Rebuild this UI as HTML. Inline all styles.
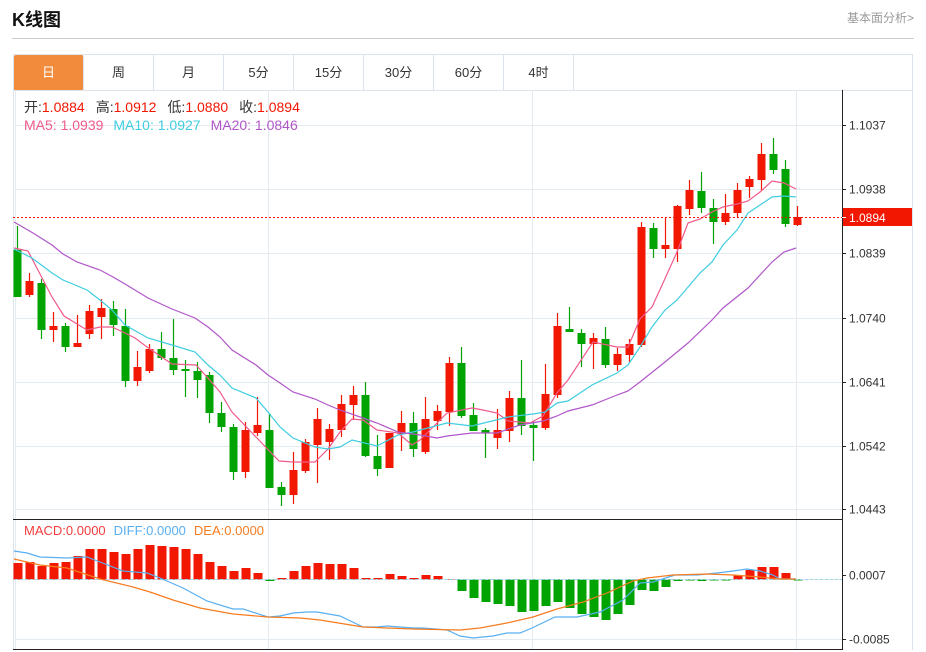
<!DOCTYPE html>
<html><head><meta charset="utf-8"><style>
body{margin:0;width:926px;height:652px;background:#fff;font-family:"Liberation Sans","Noto Sans CJK SC",sans-serif;overflow:hidden;position:relative}
.t{position:absolute;left:12px;top:6px;font-size:18px;font-weight:bold;color:#111}
.r{position:absolute;right:12px;top:9px;font-size:12px;color:#999}
.hl{position:absolute;left:12px;top:38px;width:902px;height:1px;background:#ccc}
.tabs{position:absolute;left:13px;top:54px;width:900px;height:36px;border:1px solid #dde3ea;border-bottom:none;box-sizing:border-box}
.tab{position:absolute;top:0;width:70px;height:36px;line-height:36px;text-align:center;font-size:13px;color:#333;border-right:1px solid #dde3ea;box-sizing:border-box}
svg{position:absolute;left:0;top:0}
</style></head><body>
<div class="t">K线图</div><div class="r">基本面分析&gt;</div><div class="hl"></div>
<div class="tabs">
<div class="tab" style="left:0;background:#f28c3c;color:#fff;border-radius:2px">日</div>
<div class="tab" style="left:70px">周</div><div class="tab" style="left:140px">月</div>
<div class="tab" style="left:210px">5分</div><div class="tab" style="left:280px">15分</div>
<div class="tab" style="left:350px">30分</div><div class="tab" style="left:420px">60分</div>
<div class="tab" style="left:490px">4时</div>
</div>
<svg id="s" width="926" height="652" xmlns="http://www.w3.org/2000/svg" font-family="Liberation Sans, Noto Sans CJK SC, sans-serif"></svg>
<script>
var S='';
function L(x1,y1,x2,y2,c,w,d){S+='<line x1="'+x1+'" y1="'+y1+'" x2="'+x2+'" y2="'+y2+'" stroke="'+c+'" stroke-width="'+(w||1)+'"'+(d?' stroke-dasharray="'+d+'"':'')+'/>';}
function R(x,y,w,h,c){S+='<rect x="'+x+'" y="'+y+'" width="'+w+'" height="'+h+'" fill="'+c+'"/>';}
function T(x,y,t,c,s,a){S+='<text x="'+x+'" y="'+y+'" fill="'+c+'" font-size="'+(s||12)+'"'+(a?' text-anchor="'+a+'"':'')+'>'+t+'</text>';}
function P(pts,c){S+='<polyline fill="none" stroke="'+c+'" stroke-width="1.2" points="'+pts.map(function(p){return p.join(',')}).join(' ')+'"/>';}
var G='#e3eaf0';
L(13.5,90,13.5,650,'#dde3ea');L(912.5,90,912.5,650,'#dde3ea');L(13,90.5,913,90.5,'#dde3ea');
L(15.5,90,15.5,650,G);
[125,189,253,318,382,446,509].forEach(function(y){L(15,y+.5,842,y+.5,G)});
[268,532,796].forEach(function(x){L(x+.5,90,x+.5,650,G)});
L(15,579.5,842,579.5,G);L(15,639.5,842,639.5,G);
L(842.5,90,842.5,650,'#222');
L(13,519.5,842,519.5,'#222');L(13,649.5,842,649.5,'#222');
[[125,'1.1037'],[189,'1.0938'],[253,'1.0839'],[318,'1.0740'],[382,'1.0641'],[446,'1.0542'],[509,'1.0443']].forEach(function(a){L(842,a[0]+.5,846,a[0]+.5,'#222');T(849,a[0]+4.5,a[1],'#333',12)});
[[575,'0.0007'],[639,'-0.0085']].forEach(function(a){L(842,a[0]+.5,846,a[0]+.5,'#222');T(849,a[0]+4.5,a[1],'#333',12)});
var C=[['g',250,297,226,297],['r',281,295,273,297],['g',283,330,279,339],['r',326,330,312,342],['g',326,347,323,352],['r',343,347,315,347],['r',311,334,305,339],['r',308,317,299,339],['g',309,325,301,336],['g',326,381,309,387],['r',367,381,351,386],['r',349,371,344,373],['g',349,358,332,360],['g',358,370,319,375],['g',369,371,360,397],['g',371,380,362,398],['g',375,413,372,423],['g',413,427,402,432],['g',427,472,424,480],['r',430,472,422,478],['r',425,433,397,436],['g',430,488,413,488],['g',487,495,482,506],['r',470,495,452,504],['r',442,471,439,473],['r',419,445,408,483],['r',429,442,424,460],['r',404,430,395,437],['r',395,405,386,420],['g',395,456,382,457],['g',456,469,435,476],['r',433,468,433,468],['r',423,434,411,451],['g',423,449,412,457],['r',419,452,397,454],['r',411,421,405,430],['r',363,412,357,426],['g',363,416,347,418],['g',415,431,403,431],['g',430,433,428,458],['r',430,438,409,449],['r',398,431,391,442],['g',398,426,360,435],['g',425,428,421,461],['r',394,428,364,430],['r',326,395,313,398],['g',329,332,307,332],['g',333,344,329,367],['r',338,344,333,369],['g',339,365,327,368],['r',354,365,348,371],['r',344,355,339,363],['r',227,345,222,347],['g',228,249,223,258],['r',245,249,217,258],['r',206,249,205,262],['r',190,209,180,215],['g',191,208,172,213],['g',208,222,199,244],['r',213,222,194,225],['r',190,213,183,217],['r',179,187,176,198],['r',154,180,143,191],['g',154,170,138,174],['g',169,224,160,227],['r',217,225,206,226]];
var RED='#f21700',GR='#00a300';
C.forEach(function(c,i){var x=17.5+i*12,col=c[0]=='r'?RED:GR;L(x,c[3],x,c[4],col,1.2);R(x-4,c[1],8,Math.max(2,c[2]-c[1]),col);});
P([[14,248],[28,251],[52,297],[64,316],[87,330],[100,327],[112,327],[125,333],[135,338],[147,347],[172,364],[196,365],[207,377],[220,392],[232,412],[256,437],[279,461],[293,462],[315,462],[328,449],[340,432],[352,419],[363,420],[377,430],[398,433],[412,445],[420,440],[447,413],[472,408],[483,410],[497,413],[508,421],[530,423],[543,416],[557,393],[568,380],[593,342],[617,347],[628,347],[640,319],[652,307],[663,283],[677,252],[688,223],[700,219],[712,212],[723,207],[737,204],[748,201],[760,192],[772,181],[784,183],[796,189]],'#ef5b8c');
P([[14,249],[32,258],[52,273],[63,280],[87,290],[100,300],[112,310],[125,325],[148,338],[172,345],[195,352],[208,365],[220,375],[232,388],[256,398],[268,412],[280,427],[293,438],[315,447],[328,449],[340,447],[352,440],[377,446],[398,435],[413,432],[420,430],[447,423],[472,426],[508,417],[533,414],[545,412],[557,403],[568,401],[592,385],[617,373],[628,365],[640,347],[652,327],[665,310],[677,300],[700,273],[712,262],[723,245],[737,230],[748,213],[772,197],[784,196],[796,197]],'#3fcde0');
P([[14,222],[33,233],[52,245],[63,254],[77,262],[100,270],[113,277],[125,284],[148,298],[172,309],[195,318],[208,327],[220,337],[232,350],[256,365],[268,375],[280,383],[293,392],[315,399],[328,405],[340,410],[363,418],[377,423],[398,432],[420,435],[437,438],[447,436],[472,433],[497,433],[520,425],[543,421],[557,416],[568,411],[592,405],[617,395],[628,391],[640,382],[665,362],[688,343],[712,320],[723,308],[748,288],[772,262],[784,252],[796,248]],'#b156c9');
L(13,217.5,842,217.5,RED,1,'2,2');R(843,208,69,18,RED);L(842,217.5,846,217.5,'#fff');T(849,222,'1.0894','#fff',12);
S+='<text x="24" y="112" font-size="14"><tspan fill="#333">开:</tspan><tspan fill="'+RED+'">1.0884</tspan><tspan fill="#333" dx="11">高:</tspan><tspan fill="'+RED+'">1.0912</tspan><tspan fill="#333" dx="11">低:</tspan><tspan fill="'+RED+'">1.0880</tspan><tspan fill="#333" dx="11">收:</tspan><tspan fill="'+RED+'">1.0894</tspan></text>';
S+='<text x="24" y="130" font-size="14"><tspan fill="#ef5b8c">MA5: 1.0939</tspan><tspan fill="#3fcde0" dx="10">MA10: 1.0927</tspan><tspan fill="#b156c9" dx="10">MA20: 1.0846</tspan></text>';
S+='<text x="24" y="535" font-size="13"><tspan fill="#f03c3c">MACD:0.0000</tspan><tspan fill="#59aff0" dx="8">DIFF:0.0000</tspan><tspan fill="#f57c20" dx="8">DEA:0.0000</tspan></text>';
var M=[563,562,566,563,562,556,549,549,552,554,549,545,546,547,549,554,562,566,571,568,573,581,578,571,566,563,564,564,568,578,578,574,576,578,575,576,579,591,598,602,604,606,612,611,606,602,608,614,617,620,614,605,590,591,587,581,580,581,580,580,575,570,567,567,573,580];
var Z=579.5;
M.forEach(function(v,i){var x=13.5+i*12;if(v<Z){R(x,v,9,Z-v,RED)}else if(v>Z){R(x,Z,9,Math.max(1,v-Z),GR)}});
L(15,579.5,842,579.5,'#9fd8ea',1,'3,2');
P([[14,551],[27,553],[40,557],[67,558],[87,557],[100,562],[123,571],[147,573],[160,578],[183,588],[207,601],[233,609],[243,609],[268,617],[280,616],[293,613],[307,612],[317,612],[340,616],[363,627],[377,627],[387,626],[413,628],[423,628],[447,630],[460,636],[473,638],[493,636],[507,633],[520,633],[532,628],[555,617],[577,617],[600,612],[623,600],[640,583],[653,582],[675,575],[697,575],[717,573],[733,571],[747,569],[760,571],[773,575],[780,579],[796,579]],'#59aff0');
P([[14,559],[40,565],[67,568],[100,579],[133,587],[150,592],[173,600],[200,608],[233,614],[268,617],[300,618],[320,620],[363,627],[413,629],[460,630],[480,628],[507,623],[533,617],[557,609],[583,602],[607,593],[633,581],[647,578],[673,575],[707,574],[733,575],[760,577],[780,579],[796,579]],'#f57c20');
document.getElementById('s').innerHTML=S;
</script>
</body></html>
